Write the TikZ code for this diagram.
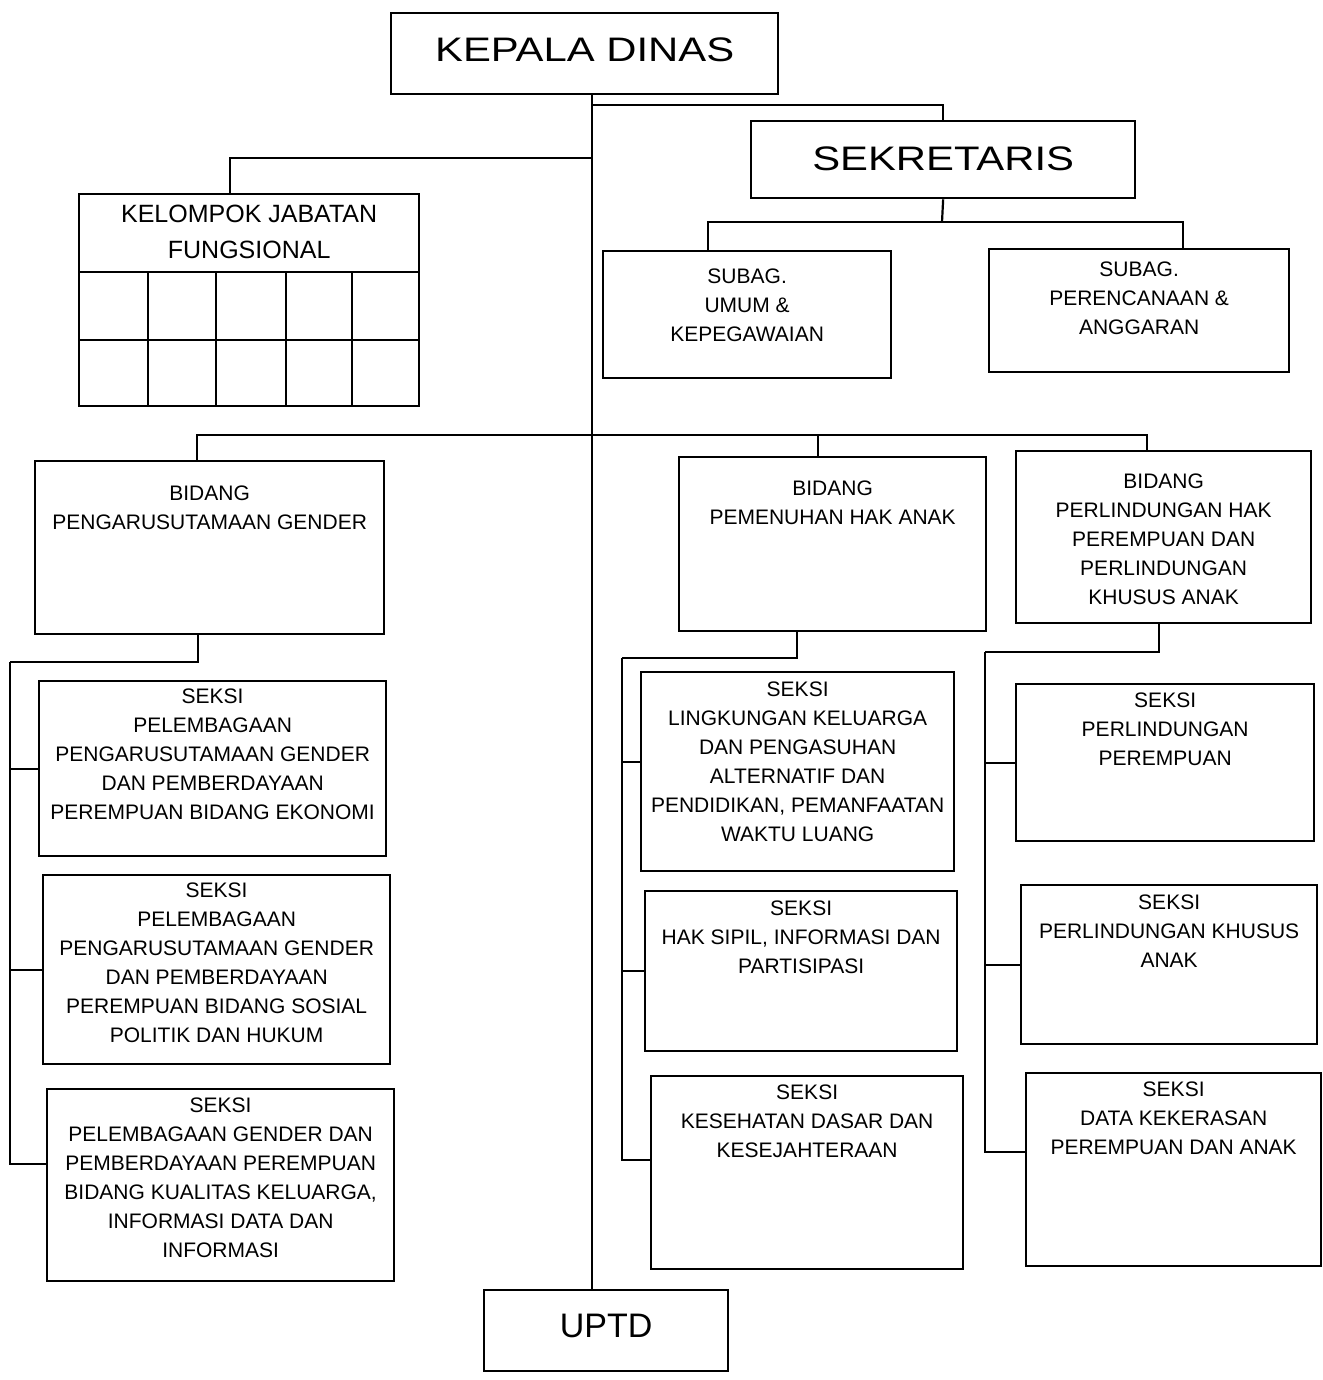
\documentclass[tikz,border=0pt]{standalone}
\usepackage{fontspec}
\setmainfont{Liberation Sans}
\newfontfamily\widefont[FakeStretch=1.23]{Liberation Sans}
\newcommand{\orgbox}[5]{\node[boxst, anchor=north west, minimum width={#4-#2}, minimum height={#5-#3}] (#1) at (#2,#3) {};}
\begin{document}
\begin{tikzpicture}[x=1pt,y=-1pt,
  boxst/.style={draw, line width=2.3pt, inner sep=0pt, fill=white},
  txt/.style={inner sep=0pt, align=center, font=\fontsize{21}{29}\selectfont},
  big/.style={font=\widefont\fontsize{34}{40}\selectfont},
  conn/.style={line width=2.2pt}]
\useasboundingbox[fill=white] (0,0) rectangle (1322,1380);

\coordinate (trk) at (592,0);
\coordinate (j1) at (592,105);
\coordinate (j2) at (592,158);
\coordinate (b2) at (592,435);
\coordinate (b1) at (942,222);
\coordinate (cL) at (230,0);

% ---- top boxes
\orgbox{kd}{390}{12}{777}{93}
\node[inner sep=0pt, big] (kdt) at ([yshift=4]kd.center) {KEPALA DINAS};
\orgbox{sek}{750}{120}{1134}{197}
\node[inner sep=0pt, big] (sekt) at ([yshift=1]sek.center) {SEKRETARIS};
\orgbox{uptd}{483}{1289}{727}{1370}
\node[inner sep=0pt, font=\fontsize{34}{40}\selectfont] (uptdt) at ([yshift=5]uptd.center) {UPTD};

\draw[conn] (kd.south -| trk) -- (uptd.north -| trk);

% KJF box with grid
\orgbox{kjf}{78}{193}{418}{405}
\draw[line width=2.3pt] (kjf.west |- 0,272) -- (kjf.east |- 0,272);
\draw[line width=2.3pt] (kjf.west |- 0,340) -- (kjf.east |- 0,340);
\foreach \gx in {148,216,286,352} \draw[line width=2.3pt] (\gx,272) -- (\gx,405);
\node[txt, anchor=north, font=\fontsize{25}{36}\selectfont] (kjft) at ([yshift=-12]kjf.north) {KELOMPOK JABATAN\\FUNGSIONAL};

\orgbox{su}{602}{250}{890}{377}
\node[txt, anchor=north] (sut) at ([yshift=-18.5]su.north) {SUBAG.\\UMUM \&\\KEPEGAWAIAN};
\orgbox{sp}{988}{248}{1288}{371}
\node[txt, anchor=north] (spt) at ([yshift=-13.5]sp.north) {SUBAG.\\PERENCANAAN \&\\ANGGARAN};

\orgbox{pug}{34}{460}{383}{633}
\node[txt, anchor=north] (pugt) at ([yshift=-25.5]pug.north) {BIDANG\\PENGARUSUTAMAAN GENDER};
\orgbox{pha}{678}{456}{985}{630}
\node[txt, anchor=north] (phat) at ([yshift=-24.5]pha.north) {BIDANG\\PEMENUHAN HAK ANAK};
\orgbox{phk}{1015}{450}{1310}{622}
\node[txt, anchor=north] (phkt) at ([yshift=-23.5]phk.north) {BIDANG\\PERLINDUNGAN HAK\\PEREMPUAN DAN\\PERLINDUNGAN\\KHUSUS ANAK};

\orgbox{ls1}{38}{680}{385}{855}
\node[txt, anchor=north] (ls1t) at ([yshift=-8.5]ls1.north) {SEKSI\\PELEMBAGAAN\\PENGARUSUTAMAAN GENDER\\DAN PEMBERDAYAAN\\PEREMPUAN BIDANG EKONOMI};
\orgbox{ls2}{42}{874}{389}{1063}
\node[txt, anchor=north] (ls2t) at ([yshift=-8.5]ls2.north) {SEKSI\\PELEMBAGAAN\\PENGARUSUTAMAAN GENDER\\DAN PEMBERDAYAAN\\PEREMPUAN BIDANG SOSIAL\\POLITIK DAN HUKUM};
\orgbox{ls3}{46}{1088}{393}{1280}
\node[txt, anchor=north] (ls3t) at ([yshift=-9.5]ls3.north) {SEKSI\\PELEMBAGAAN GENDER DAN\\PEMBERDAYAAN PEREMPUAN\\BIDANG KUALITAS KELUARGA,\\INFORMASI DATA DAN\\INFORMASI};

\orgbox{m1}{640}{671}{953}{870}
\node[txt, anchor=north] (m1t) at ([yshift=-10.5]m1.north) {SEKSI\\LINGKUNGAN KELUARGA\\DAN PENGASUHAN\\ALTERNATIF DAN\\PENDIDIKAN, PEMANFAATAN\\WAKTU LUANG};
\orgbox{m2}{644}{890}{956}{1050}
\node[txt, anchor=north] (m2t) at ([yshift=-10.5]m2.north) {SEKSI\\HAK SIPIL, INFORMASI DAN\\PARTISIPASI};
\orgbox{m3}{650}{1075}{962}{1268}
\node[txt, anchor=north] (m3t) at ([yshift=-9.5]m3.north) {SEKSI\\KESEHATAN DASAR DAN\\KESEJAHTERAAN};

\orgbox{r1}{1015}{683}{1313}{840}
\node[txt, anchor=north] (r1t) at ([yshift=-9.5]r1.north) {SEKSI\\PERLINDUNGAN\\PEREMPUAN};
\orgbox{r2}{1020}{884}{1316}{1043}
\node[txt, anchor=north] (r2t) at ([yshift=-10.5]r2.north) {SEKSI\\PERLINDUNGAN KHUSUS\\ANAK};
\orgbox{r3}{1025}{1072}{1320}{1265}
\node[txt, anchor=north] (r3t) at ([yshift=-9.5]r3.north) {SEKSI\\DATA KEKERASAN\\PEREMPUAN DAN ANAK};

% ---- connectors
\draw[conn] (j1) -| (sek.north);
\draw[conn] (j2) -| (kjf.north -| cL);
\draw[conn] (sek.south) -- (b1);
\draw[conn] (b1) -| ([xshift=-39]su.north);
\draw[conn] (b1) -| ([xshift=44]sp.north);
\draw[conn] ([xshift=-13]pug.north) |- (b2);
\draw[conn] (b2) -| ([xshift=-15]pha.north);
\draw[conn] (b2) -| ([xshift=-17]phk.north);

% PUG children
\coordinate (p1) at (10,662);
\draw[conn] ([xshift=-12]pug.south) |- (p1);
\draw[conn] (p1) |- ([yshift=21]ls3.west);
\draw[conn] (p1 |- ls1.west) -- (ls1.west);
\draw[conn] (p1 |- ls2.west) -- (ls2.west);

% PHA children
\coordinate (p2) at (622,658);
\draw[conn] ([xshift=-36]pha.south) |- (p2);
\draw[conn] (p2) |- ([yshift=13]m3.west);
\draw[conn] (p2 |- 0,762) -- (m1.west |- 0,762);
\draw[conn] (p2 |- m2.west) -- (m2.west);

% PHPPKA children
\coordinate (p3) at (985,652);
\draw[conn] ([xshift=-5]phk.south) |- (p3);
\draw[conn] (p3) |- ([yshift=18]r3.west);
\draw[conn] (p3 |- r1.west) -- (r1.west);
\draw[conn] (p3 |- r2.west) -- (r2.west);
\end{tikzpicture}
\end{document}
